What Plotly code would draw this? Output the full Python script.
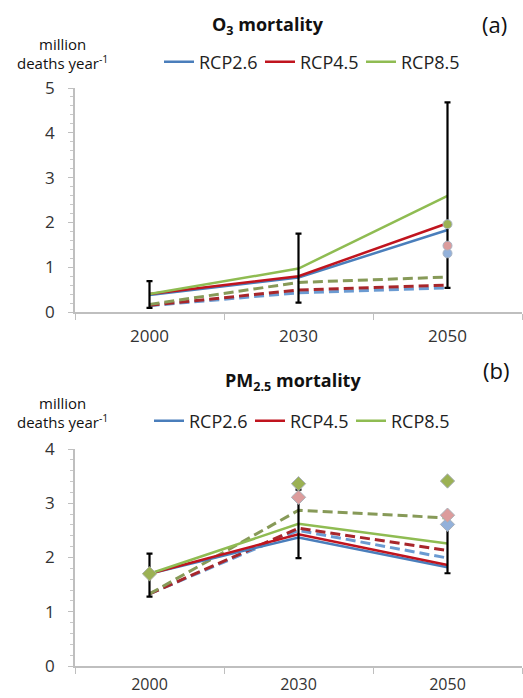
import plotly.graph_objects as go

years = ["2000", "2030", "2050"]
scenarios = ["RCP2.6", "RCP4.5", "RCP8.5"]

# Panel (a) O3 mortality
o3_solid = {"RCP2.6": [0.38, 0.77, 1.83], "RCP4.5": [0.40, 0.80, 1.98], "RCP8.5": [0.40, 0.97, 2.59]}
o3_dash = {"RCP2.6": [0.14, 0.43, 0.54], "RCP4.5": [0.15, 0.49, 0.60], "RCP8.5": [0.17, 0.66, 0.78]}
o3_err_low = [0.09, 0.21, 0.54]
o3_err_high = [0.69, 1.75, 4.68]
o3_pts = {"RCP2.6": 1.31, "RCP4.5": 1.48, "RCP8.5": 1.96}

# Panel (b) PM2.5 mortality
pm_solid = {"RCP2.6": [1.70, 2.37, 1.82], "RCP4.5": [1.70, 2.43, 1.86], "RCP8.5": [1.70, 2.62, 2.26]}
pm_dash = {"RCP2.6": [1.33, 2.50, 1.99], "RCP4.5": [1.33, 2.54, 2.13], "RCP8.5": [1.33, 2.87, 2.73]}
pm_err_low = [1.28, 1.99, 1.71]
pm_err_high = [2.07, 3.25, 2.60]
pm_pts_2030 = {"RCP4.5": 3.11, "RCP8.5": 3.36}
pm_pts_2050 = {"RCP2.6": 2.61, "RCP4.5": 2.78, "RCP8.5": 3.41}
pm_pt_2000 = 1.70

solid_col = {"RCP2.6": "#4a7ebb", "RCP4.5": "#c0141e", "RCP8.5": "#8fbc52"}
dash_col = {"RCP2.6": "#6b9bd2", "RCP4.5": "#a8262b", "RCP8.5": "#879a58"}
pt_col = {"RCP2.6": "#93b1da", "RCP4.5": "#dc9c9c", "RCP8.5": "#9bb153"}

fig = go.Figure()

def add_panel(solid, dash, lo, hi, xa, ya, leg):
    for s in scenarios:
        fig.add_trace(go.Scatter(x=years, y=dash[s], mode="lines", xaxis=xa, yaxis=ya,
                                 line=dict(color=dash_col[s], width=3, dash="10px,5px"),
                                 showlegend=False))
    for s in scenarios:
        fig.add_trace(go.Scatter(x=years, y=solid[s], mode="lines", name=s, xaxis=xa, yaxis=ya,
                                 line=dict(color=solid_col[s], width=2.5), legend=leg))
    mid = [(a + b) / 2 for a, b in zip(lo, hi)]
    fig.add_trace(go.Scatter(x=years, y=mid, mode="markers", xaxis=xa, yaxis=ya,
                             marker=dict(size=1, color="rgba(0,0,0,0)"),
                             error_y=dict(type="data", symmetric=False,
                                          array=[h - m for h, m in zip(hi, mid)],
                                          arrayminus=[m - l for m, l in zip(mid, lo)],
                                          color="black", thickness=2.2, width=3),
                             showlegend=False))

add_panel(o3_solid, o3_dash, o3_err_low, o3_err_high, "x", "y", "legend")
for s in scenarios:
    fig.add_trace(go.Scatter(x=[years[2]], y=[o3_pts[s]], mode="markers", xaxis="x", yaxis="y",
                             marker=dict(symbol="circle", size=9, color=pt_col[s],
                                         line=dict(color="#a9b4c4", width=1)),
                             showlegend=False))

add_panel(pm_solid, pm_dash, pm_err_low, pm_err_high, "x2", "y2", "legend2")
fig.add_trace(go.Scatter(x=[years[0]], y=[pm_pt_2000], mode="markers", xaxis="x2", yaxis="y2",
                         marker=dict(symbol="diamond", size=11, color=pt_col["RCP8.5"],
                                     line=dict(color="#a9b0a0", width=1)), showlegend=False))
for s, v in pm_pts_2030.items():
    fig.add_trace(go.Scatter(x=[years[1]], y=[v], mode="markers", xaxis="x2", yaxis="y2",
                             marker=dict(symbol="diamond", size=11, color=pt_col[s],
                                         line=dict(color="#a9b0b8", width=1)), showlegend=False))
for s, v in pm_pts_2050.items():
    fig.add_trace(go.Scatter(x=[years[2]], y=[v], mode="markers", xaxis="x2", yaxis="y2",
                             marker=dict(symbol="diamond", size=11, color=pt_col[s],
                                         line=dict(color="#a9b0b8", width=1)), showlegend=False))

W, H = 523, 698
xdom = [75 / W, 522 / W]
axis_font = dict(family="Open Sans", size=17, color="#333333")
xcommon = dict(type="category", range=[-0.5, 2.5], domain=xdom, showgrid=False, zeroline=False,
               showline=True, linecolor="#bfbfbf", linewidth=1.5, ticks="outside",
               tickson="boundaries", ticklen=6, tickcolor="#bfbfbf", tickfont=axis_font,
               ticklabelstandoff=8, fixedrange=True)
ycommon = dict(showgrid=False, zeroline=False, showline=True, linecolor="#bfbfbf", linewidth=1.5,
               ticks="outside", ticklen=5, tickcolor="#bfbfbf", tickfont=axis_font, dtick=1,
               ticklabelstandoff=10, fixedrange=True,
               minor=dict(dtick=0.2, ticks="outside", ticklen=3, tickcolor="#c8c8c8"))

leg_common = dict(orientation="h", xanchor="left", yanchor="middle",
                  font=dict(size=18, color="#222222"), entrywidth=56, itemwidth=30,
                  bgcolor="rgba(0,0,0,0)", borderwidth=0)

fig.update_layout(
    width=W, height=H, margin=dict(l=0, r=0, t=0, b=0, autoexpand=False),
    paper_bgcolor="white", plot_bgcolor="white",
    font=dict(family="Open Sans", color="#222222"),
    xaxis=dict(xcommon, anchor="y"),
    yaxis=dict(ycommon, range=[0, 5], domain=[1 - 312 / H, 1 - 88 / H], anchor="x"),
    xaxis2=dict(xcommon, anchor="y2", ticklabelstandoff=3,
                tickfont=dict(family="Open Sans", size=16, color="#333333")),
    yaxis2=dict(ycommon, range=[0, 4], domain=[1 - 666 / H, 1 - 449 / H], anchor="x2"),
    legend=dict(leg_common, x=159 / W, y=1 - 62 / H),
    legend2=dict(leg_common, x=149 / W, y=1 - 421 / H),
    showlegend=True,
)

def ann(text, x, y, size):
    fig.add_annotation(text=text, x=x / W, y=1 - y / H, xref="paper", yref="paper",
                       showarrow=False, xanchor="center", yanchor="middle",
                       font=dict(size=size, family="Open Sans", color="#111111"))

ann("<b>O<sub>3</sub> mortality</b>", 268, 25, 18)
ann("(a)", 494, 24, 22)
ann("million", 62, 44, 15)
ann("deaths year<sup>-1</sup>", 62, 62, 15)
ann("<b>PM<sub>2.5</sub> mortality</b>", 293, 381, 18)
ann("(b)", 496, 370, 22)
ann("million", 62, 403, 15)
ann("deaths year<sup>-1</sup>", 62, 421, 15)

fig.write_html("out.html", config={"displayModeBar": False},
               post_script="document.body.style.margin='0';")
